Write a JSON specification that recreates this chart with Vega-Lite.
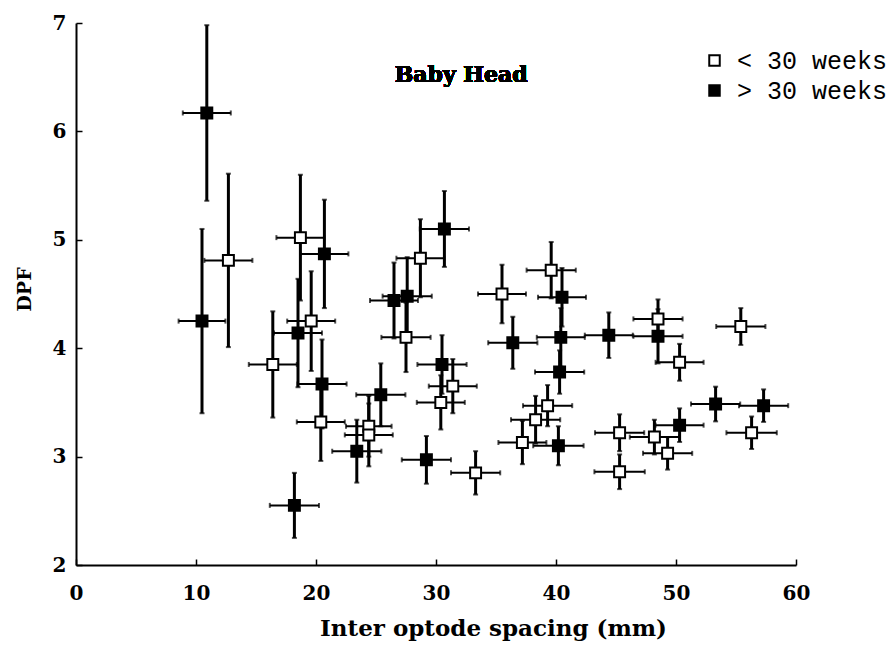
{
  "$schema": "https://vega.github.io/schema/vega-lite/v6.json",
  "width": 720,
  "height": 542,
  "autosize": {"type": "none"},
  "padding": {"left": 76, "top": 23, "right": 99, "bottom": 88},
  "background": "white",
  "config": {"view": {"stroke": null}},
  "data": {"values": [
    {"age": "< 30 weeks", "x": 12.7, "y": 4.81, "xe": 2.0, "ye": 0.80},
    {"age": "< 30 weeks", "x": 16.4, "y": 3.85, "xe": 2.0, "ye": 0.49},
    {"age": "< 30 weeks", "x": 18.7, "y": 5.02, "xe": 2.0, "ye": 0.58},
    {"age": "< 30 weeks", "x": 19.6, "y": 4.25, "xe": 2.0, "ye": 0.46},
    {"age": "< 30 weeks", "x": 20.4, "y": 3.32, "xe": 2.0, "ye": 0.36},
    {"age": "< 30 weeks", "x": 24.4, "y": 3.28, "xe": 1.9, "ye": 0.28},
    {"age": "< 30 weeks", "x": 24.4, "y": 3.20, "xe": 2.0, "ye": 0.29},
    {"age": "< 30 weeks", "x": 28.7, "y": 4.83, "xe": 2.0, "ye": 0.36},
    {"age": "< 30 weeks", "x": 27.5, "y": 4.10, "xe": 2.05, "ye": 0.32},
    {"age": "< 30 weeks", "x": 31.4, "y": 3.65, "xe": 2.0, "ye": 0.25},
    {"age": "< 30 weeks", "x": 30.4, "y": 3.50, "xe": 2.0, "ye": 0.25},
    {"age": "< 30 weeks", "x": 33.3, "y": 2.85, "xe": 2.05, "ye": 0.20},
    {"age": "< 30 weeks", "x": 35.5, "y": 4.50, "xe": 2.0, "ye": 0.27},
    {"age": "< 30 weeks", "x": 39.6, "y": 4.72, "xe": 2.05, "ye": 0.26},
    {"age": "< 30 weeks", "x": 37.2, "y": 3.13, "xe": 2.0, "ye": 0.20},
    {"age": "< 30 weeks", "x": 38.3, "y": 3.34, "xe": 2.05, "ye": 0.22},
    {"age": "< 30 weeks", "x": 39.3, "y": 3.47, "xe": 2.05, "ye": 0.19},
    {"age": "< 30 weeks", "x": 48.5, "y": 4.27, "xe": 2.05, "ye": 0.18},
    {"age": "< 30 weeks", "x": 50.3, "y": 3.87, "xe": 2.0, "ye": 0.17},
    {"age": "< 30 weeks", "x": 55.4, "y": 4.20, "xe": 2.05, "ye": 0.17},
    {"age": "< 30 weeks", "x": 45.3, "y": 3.22, "xe": 2.05, "ye": 0.17},
    {"age": "< 30 weeks", "x": 48.2, "y": 3.18, "xe": 2.05, "ye": 0.16},
    {"age": "< 30 weeks", "x": 49.3, "y": 3.03, "xe": 2.05, "ye": 0.15},
    {"age": "< 30 weeks", "x": 45.3, "y": 2.86, "xe": 2.1, "ye": 0.16},
    {"age": "< 30 weeks", "x": 56.3, "y": 3.22, "xe": 2.1, "ye": 0.15},
    {"age": "> 30 weeks", "x": 10.9, "y": 6.17, "xe": 2.0, "ye": 0.81},
    {"age": "> 30 weeks", "x": 10.5, "y": 4.25, "xe": 1.95, "ye": 0.85},
    {"age": "> 30 weeks", "x": 20.7, "y": 4.87, "xe": 2.0, "ye": 0.50},
    {"age": "> 30 weeks", "x": 18.5, "y": 4.14, "xe": 2.0, "ye": 0.50},
    {"age": "> 30 weeks", "x": 20.5, "y": 3.67, "xe": 2.05, "ye": 0.41},
    {"age": "> 30 weeks", "x": 25.4, "y": 3.57, "xe": 2.05, "ye": 0.29},
    {"age": "> 30 weeks", "x": 23.4, "y": 3.05, "xe": 2.05, "ye": 0.29},
    {"age": "> 30 weeks", "x": 18.2, "y": 2.55, "xe": 2.05, "ye": 0.30},
    {"age": "> 30 weeks", "x": 29.2, "y": 2.97, "xe": 2.05, "ye": 0.22},
    {"age": "> 30 weeks", "x": 30.5, "y": 3.85, "xe": 2.05, "ye": 0.27},
    {"age": "> 30 weeks", "x": 30.7, "y": 5.10, "xe": 2.05, "ye": 0.35},
    {"age": "> 30 weeks", "x": 26.5, "y": 4.44, "xe": 2.0, "ye": 0.35},
    {"age": "> 30 weeks", "x": 27.6, "y": 4.48, "xe": 2.05, "ye": 0.36},
    {"age": "> 30 weeks", "x": 36.4, "y": 4.05, "xe": 2.05, "ye": 0.24},
    {"age": "> 30 weeks", "x": 40.5, "y": 4.47, "xe": 2.0, "ye": 0.27},
    {"age": "> 30 weeks", "x": 40.4, "y": 4.10, "xe": 2.0, "ye": 0.27},
    {"age": "> 30 weeks", "x": 40.3, "y": 3.78, "xe": 2.05, "ye": 0.20},
    {"age": "> 30 weeks", "x": 40.2, "y": 3.10, "xe": 2.1, "ye": 0.18},
    {"age": "> 30 weeks", "x": 44.4, "y": 4.12, "xe": 2.0, "ye": 0.21},
    {"age": "> 30 weeks", "x": 48.5, "y": 4.11, "xe": 2.05, "ye": 0.25},
    {"age": "> 30 weeks", "x": 50.3, "y": 3.29, "xe": 2.0, "ye": 0.155},
    {"age": "> 30 weeks", "x": 53.3, "y": 3.485, "xe": 2.05, "ye": 0.16},
    {"age": "> 30 weeks", "x": 57.3, "y": 3.47, "xe": 2.05, "ye": 0.15}
  ]},
  "layer": [
    {
      "mark": {"type": "errorbar", "color": "black", "thickness": 2, "ticks": {"size": 5, "thickness": 2, "color": "black"}},
      "encoding": {
        "x": {"field": "x", "type": "quantitative", "title": "Inter optode spacing (mm)", "scale": {"domain": [0, 60], "nice": false, "zero": false},
          "axis": {"values": [0, 10, 20, 30, 40, 50, 60], "format": "d", "grid": false, "tickSize": -6, "tickWidth": 1.5, "tickColor": "black", "domainColor": "black", "domainWidth": 2, "labelPadding": 24, "labelFont": "DejaVu Serif", "labelFontSize": 20, "labelFontWeight": "bold", "labelColor": "black", "labelFlush": false, "labelBaseline": "top", "titleFont": "DejaVu Serif", "titleFontSize": 23, "titleFontWeight": "bold", "titleColor": "black", "titleX": 417, "titleY": 70, "titleBaseline": "alphabetic", "titleAlign": "center"}},
        "xError": {"field": "xe"},
        "y": {"field": "y", "type": "quantitative", "title": "DPF", "scale": {"domain": [2, 7], "nice": false, "zero": false},
          "axis": {"values": [2, 3, 4, 5, 6, 7], "format": "d", "grid": false, "tickSize": -6, "tickWidth": 1.5, "tickColor": "black", "domainColor": "black", "domainWidth": 2, "labelPadding": 16, "labelFont": "DejaVu Serif", "labelFontSize": 20, "labelFontWeight": "bold", "labelColor": "black", "titleFont": "DejaVu Serif", "titleFontSize": 19, "titleFontWeight": "bold", "titleColor": "black", "titleAngle": -90, "titleX": -46, "titleY": 266, "titleAlign": "center", "titleBaseline": "alphabetic"}}
      }
    },
    {
      "mark": {"type": "errorbar", "color": "black", "thickness": 3, "ticks": {"size": 5, "thickness": 2, "color": "black"}},
      "encoding": {
        "x": {"field": "x", "type": "quantitative", "title": "Inter optode spacing (mm)"},
        "y": {"field": "y", "type": "quantitative", "title": "DPF"},
        "yError": {"field": "ye"}
      }
    },
    {
      "mark": {"type": "point", "shape": "square", "size": 120, "filled": true, "stroke": "black", "strokeWidth": 2, "opacity": 1},
      "encoding": {
        "x": {"field": "x", "type": "quantitative", "title": "Inter optode spacing (mm)"},
        "y": {"field": "y", "type": "quantitative", "title": "DPF"},
        "fill": {"field": "age", "type": "nominal", "scale": {"domain": ["< 30 weeks", "> 30 weeks"], "range": ["white", "black"]},
          "legend": {"title": null, "orient": "none", "legendX": 626, "legendY": 25, "symbolType": "square", "symbolSize": 110, "symbolStrokeColor": "black", "symbolStrokeWidth": 2, "symbolOpacity": 1, "labelFont": "Liberation Mono", "labelFontSize": 25, "labelColor": "black", "labelOffset": 10, "rowPadding": 4, "padding": 0}}
      }
    },
    {
      "mark": {"type": "text", "text": "Baby Head", "font": "DejaVu Serif", "fontSize": 22, "fontWeight": "bold", "align": "center", "baseline": "alphabetic", "fill": "black"},
      "encoding": {
        "x": {"datum": 32.1, "type": "quantitative"},
        "y": {"datum": 6.46, "type": "quantitative"}
      }
    }
  ]
}
